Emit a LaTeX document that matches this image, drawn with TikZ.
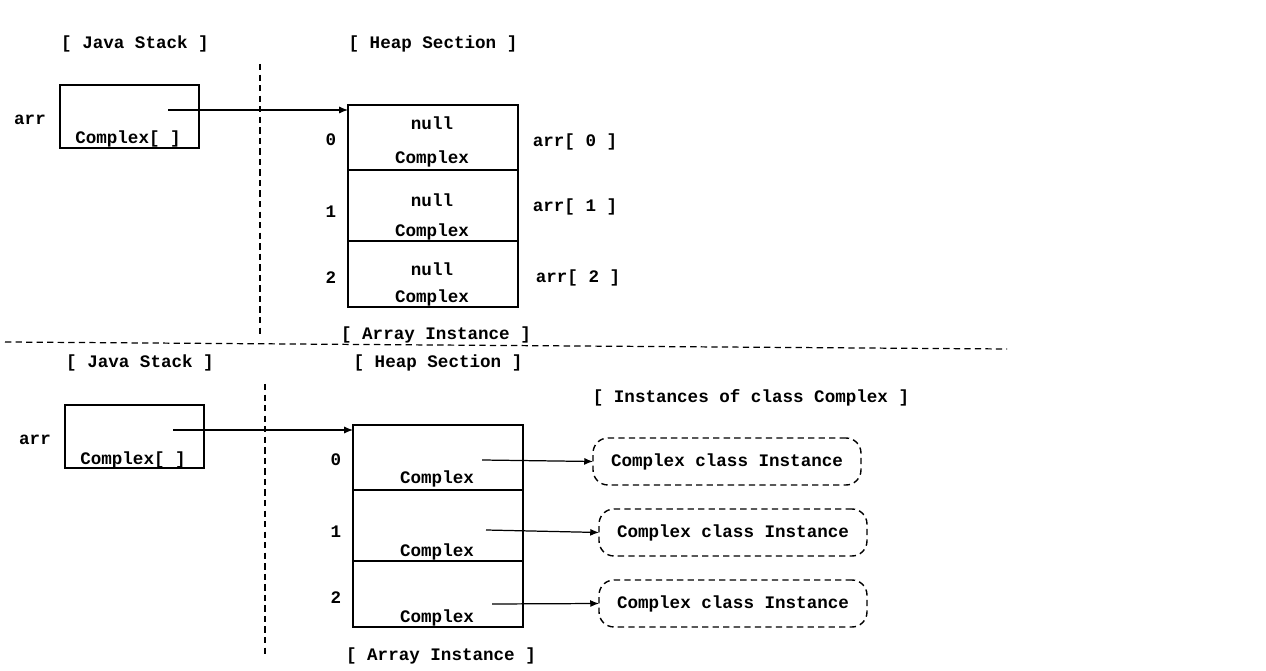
\documentclass[tikz,border=0pt]{standalone}
\usepackage{fontspec}
\setmainfont{Liberation Mono}
\usetikzlibrary{positioning,arrows.meta}
\tikzset{>={Latex[length=5pt,width=4pt]}}

\begin{document}
\begin{tikzpicture}[x=0.02cm,y=-0.02cm,
  every node/.style={font=\bfseries},
  box/.style={draw,line width=0.8pt,outer sep=0pt,minimum width=2.78cm,minimum height=1.26cm},
  cell/.style={draw,line width=0.8pt,outer sep=0pt,minimum width=3.4cm},
  divider/.style={line width=0.7pt,dash pattern=on 3.6pt off 2.4pt},
  instance/.style={draw,line width=0.8pt,dash pattern=on 3.6pt off 2.4pt,rounded corners=0.3cm,
    outer sep=0pt,minimum width=5.36cm,minimum height=0.94cm},
  ref/.style={->,line width=0.7pt}]
  \useasboundingbox (0,0) rectangle (1266,671);

  % ---- before: array of null references ----
  % titles
  \node (stackA) at (135,44) {[ Java Stack ]};
  \node (heapA) at (433,44) {[ Heap Section ]};
  \draw[divider] (260,64) -- (260,335);
  % stack variable
  \node (nameA) at (30,120) {arr};
  \node[box] (varA) at (129.5,116.5) {};
  \node (typeA) at (128,139) {Complex[ ]};
  \coordinate (ptrA) at (168,110);
  % array instance
  \node[cell,minimum height=1.3cm] (cellA0) at (433,137.5) {};
  \node[cell,minimum height=1.42cm] (cellA1) at (433,205.5) {};
  \node[cell,minimum height=1.32cm] (cellA2) at (433,274) {};
  \node at (432,123) {null};
  \node at (432,159) {Complex};
  \node at (432,200) {null};
  \node at (432,232) {Complex};
  \node at (432,269) {null};
  \node at (432,298) {Complex};
  \node (idxA0) at (331,140) {0};
  \node (idxA1) at (331,212) {1};
  \node (idxA2) at (331,278) {2};
  \node (elemA0) at (575,142) {arr[ 0 ]};
  \node (elemA1) at (575,207) {arr[ 1 ]};
  \node (elemA2) at (578,278) {arr[ 2 ]};
  \node (arrayA) at (436,335) {[ Array Instance ]};
  \draw[ref] (ptrA) -- (cellA0.north west |- ptrA);

  % separator
  \draw[divider] (5,342) -- (1007,349);

  % ---- after: references to instances ----
  % titles
  \node (stackB) at (140,363) {[ Java Stack ]};
  \node (heapB) at (438,363) {[ Heap Section ]};
  \node (instTitle) at (751,398) {[ Instances of class Complex ]};
  \draw[divider] (265,384) -- (265,655);
  % stack variable
  \node (nameB) at (35,440) {arr};
  \node[box] (varB) at (134.5,436.5) {};
  \node (typeB) at (133,460) {Complex[ ]};
  \coordinate (ptrB) at (173,430);
  % array instance
  \node[cell,minimum height=1.3cm] (cellB0) at (438,457.5) {};
  \node[cell,minimum height=1.42cm] (cellB1) at (438,525.5) {};
  \node[cell,minimum height=1.32cm] (cellB2) at (438,594) {};
  \node at (437,479) {Complex};
  \node at (437,552) {Complex};
  \node at (437,618) {Complex};
  \node (idxB0) at (336,460) {0};
  \node (idxB1) at (336,532) {1};
  \node (idxB2) at (336,598) {2};
  \node (arrayB) at (441,656) {[ Array Instance ]};
  \draw[ref] (ptrB) -- (cellB0.north west |- ptrB);
  % instances
  \node[instance] (instB0) at (727,461.5) {Complex class Instance};
  \node[instance] (instB1) at (733,532.5) {Complex class Instance};
  \node[instance] (instB2) at (733,603.5) {Complex class Instance};
  \coordinate (ptrB0) at (482,460);
  \coordinate (ptrB1) at (486,530);
  \coordinate (ptrB2) at (492,604);
  \draw[ref] (ptrB0) -- (instB0.west);
  \draw[ref] (ptrB1) -- (instB1.west);
  \draw[ref] (ptrB2) -- (instB2.west);
\end{tikzpicture}
\end{document}
